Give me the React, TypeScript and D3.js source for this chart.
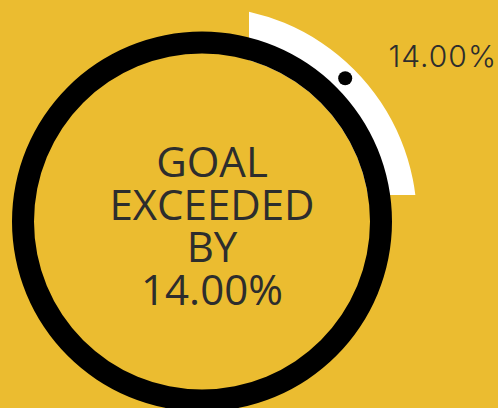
import * as d3 from "d3";
import React, { useEffect, useRef } from "react";

// goal gauge values (percent)
const goalValue = [100];
const actualValue = [114];
const centerLines = ["GOAL", "EXCEEDED", "BY", "14.00%"];
const cornerLabel = ["14.00%"];

export default function App() {
    const svgRef = useRef<SVGSVGElement>(null);

    useEffect(() => {
        const svgWidth = 498;
        const svgHeight = 408;
        const cx = 202;
        const cy = 221.5;
        const ringOuter = 190;
        const ringInner = 168;
        const overOuter = 215;

        const svg = d3.select(svgRef.current)
            .attr("viewBox", [0, 0, svgWidth, svgHeight].join(" "))
            .attr("width", svgWidth)
            .attr("height", svgHeight);
        svg.selectAll("*").remove();

        svg.append("rect")
            .attr("width", svgWidth)
            .attr("height", svgHeight)
            .attr("fill", "#ebbc30");

        // angle scale: full circle = the goal
        const angle = d3.scaleLinear().domain([0, goalValue[0]]).range([0, 2 * Math.PI]);
        const excess = actualValue[0] - goalValue[0];

        // overflow track clip (flat ends, not radial)
        const defs = svg.append("defs");
        defs.append("clipPath").attr("id", "over-clip")
            .append("rect")
            .attr("x", cx + 47)
            .attr("y", 0)
            .attr("width", svgWidth)
            .attr("height", cy - 26.5);

        const overArc = d3.arc<any>()
            .innerRadius(ringInner)
            .outerRadius(overOuter)
            .startAngle(angle(0))
            .endAngle(angle(goalValue[0] / 4));

        svg.append("g")
            .attr("clip-path", "url(#over-clip)")
            .append("path")
            .attr("transform", `translate(${cx},${cy})`)
            .attr("d", overArc({}) as string)
            .attr("fill", "#ffffff");

        const g = svg.append("g").attr("transform", `translate(${cx},${cy})`);

        // goal ring
        const ringArc = d3.arc<any>()
            .innerRadius(ringInner)
            .outerRadius(ringOuter)
            .startAngle(angle(0))
            .endAngle(angle(goalValue[0]));
        g.append("path").attr("d", ringArc({}) as string).attr("fill", "#000000");

        // marker dot in the middle of the overflow track
        const dotAngle = angle(goalValue[0] / 8) - Math.PI / 2;
        const dotR = (ringOuter + overOuter) / 2;
        g.append("circle")
            .attr("cx", Math.cos(dotAngle) * dotR)
            .attr("cy", Math.sin(dotAngle) * dotR)
            .attr("r", 7)
            .attr("fill", "#000000");

        // center text
        const lineH = 42.7;
        g.append("g").selectAll("text")
            .data(centerLines)
            .enter().append("text")
            .attr("x", 10)
            .attr("y", (d, i) => 177 - cy + i * lineH)
            .attr("text-anchor", "middle")
            .attr("font-family", "'Open Sans', sans-serif")
            .attr("font-size", 42)
            .attr("fill", "#2d2d2d")
            .text(d => d);

        // corner label
        svg.append("text")
            .attr("x", 497)
            .attr("y", 67)
            .attr("text-anchor", "end")
            .attr("font-family", "Inter, sans-serif")
            .attr("font-weight", 300)
            .attr("font-size", 30)
            .attr("letter-spacing", 1)
            .attr("fill", "#2d2d2d")
            .text(excess.toFixed(2) === "14.00" ? cornerLabel[0] : excess.toFixed(2) + "%");
    }, []);

    return (
        <div style={{ position: "fixed", left: 0, top: 0 }}>
            <svg ref={svgRef} style={{ display: "block" }}></svg>
        </div>
    );
}
